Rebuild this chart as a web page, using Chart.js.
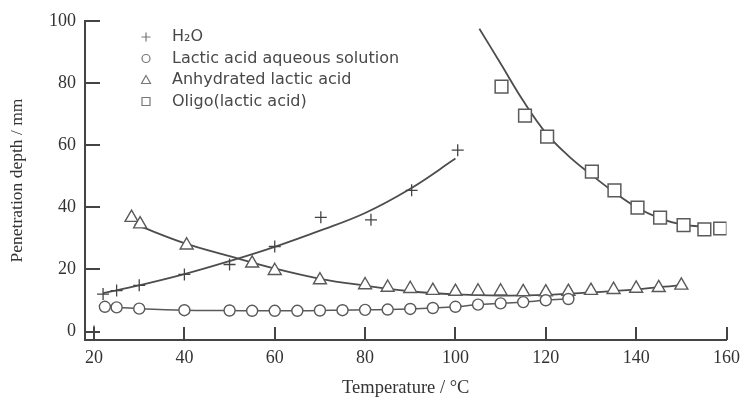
<!DOCTYPE html>
<html><head><meta charset="utf-8">
<script src="https://cdn.jsdelivr.net/npm/chart.js@4"></script>
<style>html,body{margin:0;padding:0;background:#fff}</style>
</head><body>
<canvas id="c" width="747" height="402"></canvas>
<script>
// ---- tick labels ----
const xTickValues = [20, 40, 60, 80, 100, 120, 140, 160];
const yTickValues = [0, 20, 40, 60, 80, 100];

// ---- H2O ----
const h2oT     = [20, 22, 25, 30, 40, 50, 60, 70.2, 81.3, 90.3, 100.5];
const h2oDepth = [0, 12.1, 13.2, 14.9, 18.4, 21.6, 27.4, 36.8, 36.0, 45.5, 58.4];
const h2oFitT     = [22, 30, 40, 50, 60, 70, 80, 90, 100];
const h2oFitDepth = [12.4, 14.9, 18.5, 22.7, 27.3, 32.5, 38.2, 46.0, 55.7];

// ---- Lactic acid aqueous solution ----
const lacT     = [22.4, 25, 30, 40, 50, 55, 60, 65, 70, 75, 80, 85, 90, 95, 100, 105, 110, 115, 120, 125];
const lacDepth = [8.0, 7.8, 7.4, 6.9, 6.8, 6.7, 6.7, 6.7, 6.8, 6.9, 7.0, 7.1, 7.3, 7.6, 8.0, 8.7, 9.1, 9.5, 10.1, 10.5];

// ---- Anhydrated lactic acid ----
const anhT     = [28.3, 30.2, 40.5, 55, 60, 70, 80, 85, 90, 95, 100, 105, 110, 115, 120, 125, 130, 135, 140, 145, 150];
const anhDepth = [36.7, 34.6, 27.8, 22.0, 19.6, 16.6, 15.0, 14.2, 13.8, 13.2, 12.9, 13.0, 13.0, 12.8, 12.7, 12.9, 13.2, 13.5, 13.9, 14.1, 14.9];
const anhFitT     = [29, 40, 50, 60, 70, 80, 90, 100, 110, 120, 130, 140, 150];
const anhFitDepth = [34.6, 28.5, 24.3, 20.3, 17.0, 14.8, 13.0, 12.0, 11.6, 11.8, 12.6, 13.6, 15.0];

// ---- Oligo(lactic acid) ----
const oliT     = [110.2, 115.4, 120.3, 130.2, 135.2, 140.3, 145.3, 150.5, 155.1, 158.6];
const oliDepth = [78.9, 69.5, 62.8, 51.5, 45.5, 39.9, 36.7, 34.3, 32.9, 33.2];
const oliFitT     = [105.3, 110, 115, 120, 125, 130, 135, 140, 145, 150, 156.5];
const oliFitDepth = [97.5, 86.3, 74.3, 64.0, 56.6, 50.6, 45.0, 40.1, 36.6, 34.5, 33.6];

const labels = ['H\u2082O', 'Lactic acid aqueous solution', 'Anhydrated lactic acid', 'Oligo(lactic acid)'];

const pts = (xs, ys) => xs.map((x, i) => ({x, y: ys[i]}));
const LINE = '#4d4d4d';
const MARK = '#5a5a5a';
const SERIF = "'Liberation Serif', 'DejaVu Serif', serif";

const lineDs = (data) => ({
  data, showLine: true, pointRadius: 0, borderColor: LINE, borderWidth: 1.8,
  tension: 0.4, fill: false, order: 5
});

const inwardTicks = {
  id: 'inwardTicks',
  afterDraw(chart) {
    const {ctx, chartArea: a, scales: {x, y}} = chart;
    ctx.save();
    ctx.strokeStyle = '#444';
    ctx.lineWidth = 2;
    ctx.beginPath();
    yTickValues.forEach(v => {
      const py = Math.round(y.getPixelForValue(v));
      ctx.moveTo(a.left, py); ctx.lineTo(a.left + 15, py);
    });
    xTickValues.forEach(v => {
      const px = Math.round(x.getPixelForValue(v));
      ctx.moveTo(px, a.bottom); ctx.lineTo(px, a.bottom - 13);
    });
    ctx.stroke();
    ctx.restore();
  }
};

const legendPlugin = {
  id: 'insideLegend',
  afterDraw(chart) {
    const ctx = chart.ctx;
    const mx = 146, tx = 172, y0 = 37, dy = 21.5;
    ctx.save();
    ctx.font = "16px 'DejaVu Sans', 'Noto Sans', sans-serif";
    ctx.textBaseline = 'middle';
    ctx.fillStyle = '#484848';
    ctx.strokeStyle = '#777';
    ctx.lineWidth = 1.2;
    labels.forEach((lab, i) => {
      const yy = y0 + i * dy;
      ctx.beginPath();
      if (i === 0) { ctx.moveTo(mx - 4.5, yy); ctx.lineTo(mx + 4.5, yy); ctx.moveTo(mx, yy - 4.5); ctx.lineTo(mx, yy + 4.5); }
      else if (i === 1) { ctx.arc(mx, yy, 4, 0, Math.PI * 2); }
      else if (i === 2) { ctx.moveTo(mx, yy - 4.5); ctx.lineTo(mx + 4.5, yy + 3.5); ctx.lineTo(mx - 4.5, yy + 3.5); ctx.closePath(); }
      else { ctx.rect(mx - 4, yy - 4, 8, 8); }
      ctx.stroke();
      ctx.fillText(lab, tx, yy);
    });
    ctx.restore();
  }
};

new Chart(document.getElementById('c'), {
  type: 'scatter',
  data: {
    datasets: [
      { label: labels[0], data: pts(h2oT, h2oDepth), pointStyle: 'cross', pointRadius: 6, borderColor: '#444', borderWidth: 1.3, showLine: false, order: 1 },
      { label: labels[1], data: pts(lacT, lacDepth), pointStyle: 'circle', pointRadius: 5.5, borderColor: MARK, pointBorderColor: MARK, pointBackgroundColor: '#fff', backgroundColor: '#fff', borderWidth: 1.5, pointBorderWidth: 1.4, showLine: true, tension: 0.3, order: 1 },
      { label: labels[2], data: pts(anhT, anhDepth), pointStyle: 'triangle', pointRadius: 7.5, borderColor: MARK, backgroundColor: '#fff', pointBackgroundColor: '#fff', borderWidth: 1.4, showLine: false, order: 1 },
      { label: labels[3], data: pts(oliT, oliDepth), pointStyle: 'rect', pointRadius: 9, borderColor: MARK, backgroundColor: '#fff', pointBackgroundColor: '#fff', borderWidth: 1.5, showLine: false, order: 1 },
      lineDs(pts(h2oFitT, h2oFitDepth)),
      lineDs(pts(anhFitT, anhFitDepth)),
      lineDs(pts(oliFitT, oliFitDepth))
    ]
  },
  options: {
    responsive: false,
    animation: false,
    devicePixelRatio: 1,
    layout: { padding: { top: 21, right: 17.5, left: 0, bottom: 0 } },
    plugins: { legend: { display: false }, tooltip: { enabled: false } },
    scales: {
      x: {
        type: 'linear', min: 18, max: 160,
        afterBuildTicks: s => { s.ticks = xTickValues.map(v => ({value: v})); },
        afterFit: s => { s.height = 62; },
        grid: { display: false, drawTicks: false },
        border: { display: true, color: '#444', width: 2 },
        ticks: { color: '#333', font: { family: SERIF, size: 18 }, padding: 7, maxRotation: 0 },
        title: { display: true, text: 'Temperature / \u00B0C', color: '#333', font: { family: SERIF, size: 18.5 }, padding: { top: 0, bottom: 3 } }
      },
      y: {
        type: 'linear', min: -2.7, max: 100,
        afterBuildTicks: s => { s.ticks = yTickValues.map(v => ({value: v})); },
        afterFit: s => { s.width = 85; },
        grid: { display: false, drawTicks: false },
        border: { display: true, color: '#444', width: 2 },
        ticks: { color: '#333', font: { family: SERIF, size: 18 }, padding: 9 },
        title: { display: true, text: 'Penetration depth / mm', color: '#333', font: { family: SERIF, size: 17.5 }, padding: { top: 7, bottom: 0 } }
      }
    }
  },
  plugins: [inwardTicks, legendPlugin]
});
</script>
</body></html>
